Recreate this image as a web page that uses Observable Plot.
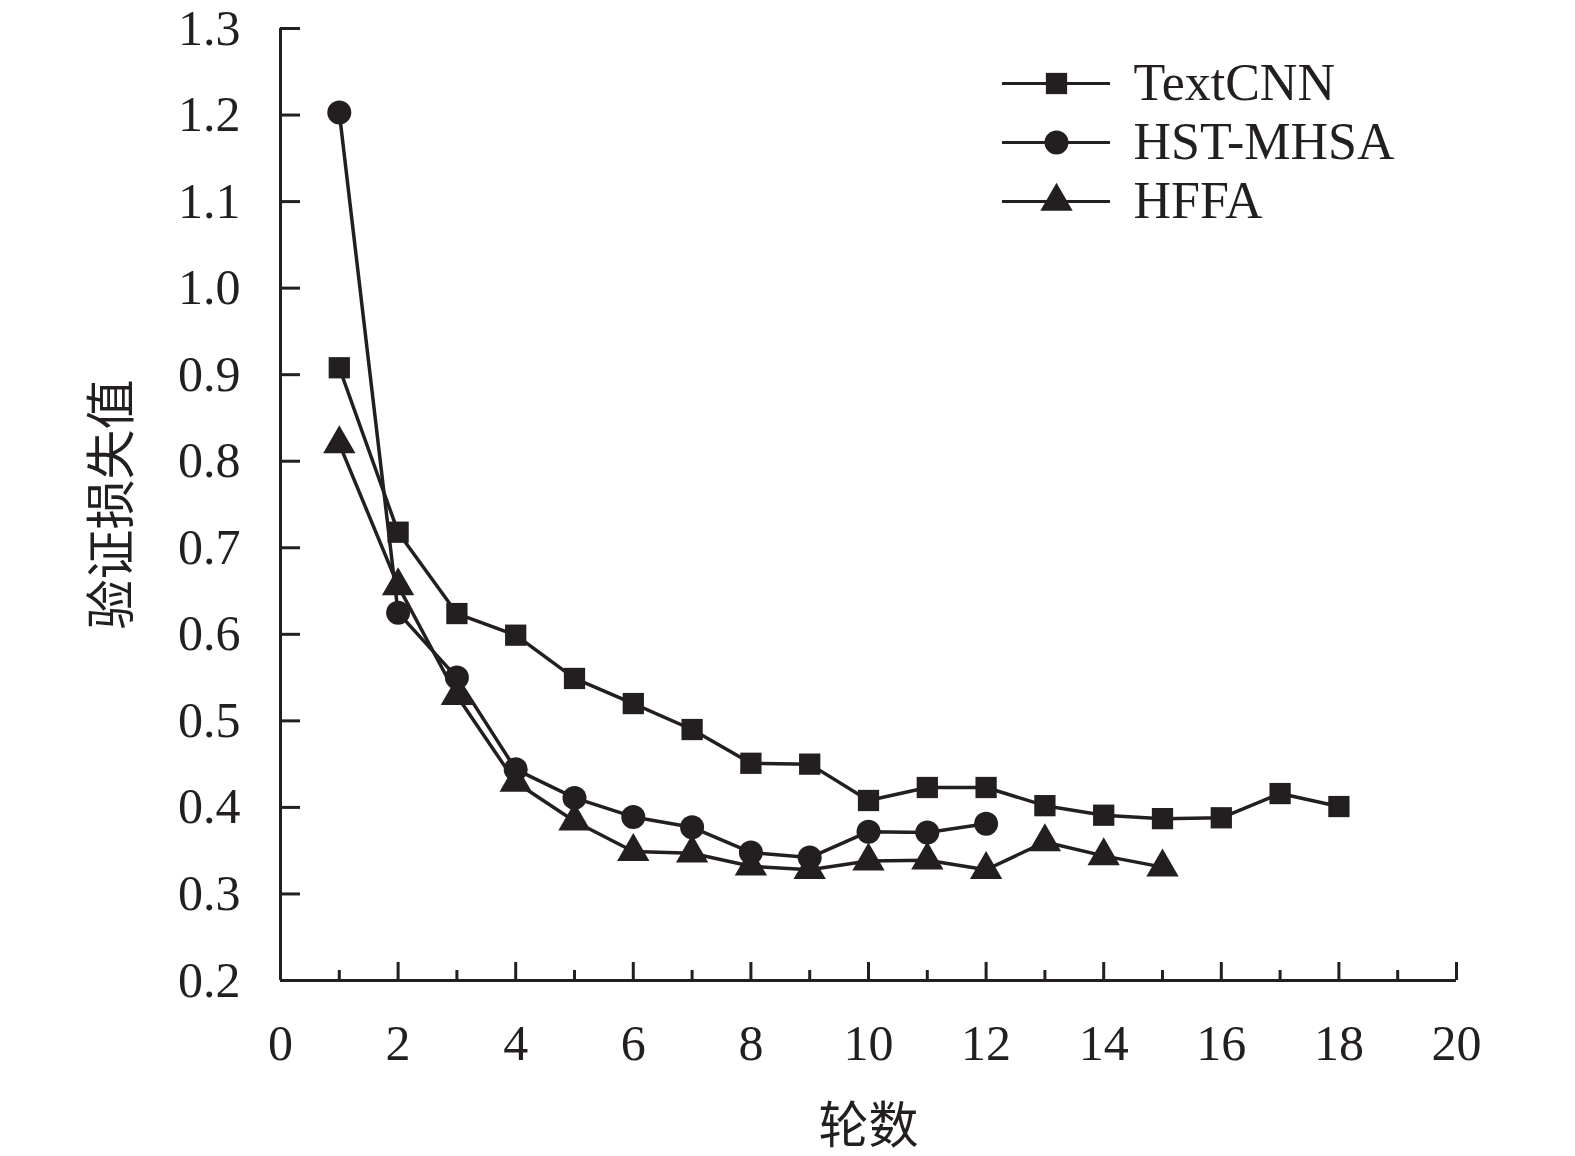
<!DOCTYPE html>
<html><head><meta charset="utf-8">
<script src="https://cdn.jsdelivr.net/npm/d3@7"></script>
<script src="https://cdn.jsdelivr.net/npm/@observablehq/plot@0.6"></script>
<style>
html,body{margin:0;padding:0;background:#fff;overflow:hidden}
#wrap{position:relative;width:1575px;height:1156px;background:#fff}
#wrap svg{display:block;max-width:none !important}
#legend{position:absolute;left:980px;top:28px}
</style>
</head><body><div id="wrap"></div>
<script>
const seriesNames = ["TextCNN", "HST-MHSA", "HFFA"];
const seriesSymbols = ["square", "circle", "triangle"];

const textcnnEpochs = [1,2,3,4,5,6,7,8,9,10,11,12,13,14,15,16,17,18];
const textcnnLoss   = [0.908,0.718,0.624,0.599,0.549,0.520,0.490,0.451,0.450,0.408,0.423,0.423,0.402,0.391,0.387,0.388,0.416,0.401];

const hstEpochs = [1,2,3,4,5,6,7,8,9,10,11,12];
const hstLoss   = [1.203,0.625,0.550,0.444,0.411,0.389,0.377,0.348,0.342,0.372,0.371,0.381];

const hffaEpochs = [1,2,3,4,5,6,7,8,9,10,11,12,13,14,15];
const hffaLoss   = [0.820,0.656,0.529,0.429,0.384,0.349,0.347,0.332,0.328,0.338,0.339,0.328,0.360,0.344,0.331];

const xMajorTicks = [0,2,4,6,8,10,12,14,16,18,20];
const xMinorTicks = [1,3,5,7,9,11,13,15,17,19];
const yTicks = [0.2,0.3,0.4,0.5,0.6,0.7,0.8,0.9,1.0,1.1,1.2,1.3];

const xLabel = "轮数";
const yLabel = "验证损失值";

const ink = "#231f20";
const serif = "'Liberation Serif', 'Times New Roman', serif";
const cjk = "'Noto Sans CJK SC', sans-serif";

const data = [
  ...textcnnEpochs.map((e, i) => ({series: seriesNames[0], epoch: e, loss: textcnnLoss[i]})),
  ...hstEpochs.map((e, i) => ({series: seriesNames[1], epoch: e, loss: hstLoss[i]})),
  ...hffaEpochs.map((e, i) => ({series: seriesNames[2], epoch: e, loss: hffaLoss[i]}))
];

const chart = Plot.plot({
  width: 1575,
  height: 1156,
  marginLeft: 280,
  marginRight: 119,
  marginTop: 28,
  marginBottom: 176,
  style: {fontFamily: serif, color: ink, background: "#fff"},
  x: {domain: [0, 20], axis: null},
  y: {domain: [0.2, 1.3], axis: null},
  symbol: {domain: seriesNames, range: seriesSymbols},
  marks: [
    Plot.axisY(yTicks, {anchor: "left", tickSize: -20, tickPadding: 60, strokeWidth: 3, fontSize: 50, fill: ink, stroke: ink, tickFormat: d => d.toFixed(1), label: null}),
    Plot.axisX(xMajorTicks, {anchor: "bottom", tickSize: -18, tickPadding: 62, strokeWidth: 3, fontSize: 50, fill: ink, stroke: ink, tickFormat: d => String(d), label: null}),
    Plot.axisX(xMinorTicks, {anchor: "bottom", tickSize: -10, strokeWidth: 3, stroke: ink, tickFormat: () => "", label: null}),
    Plot.ruleX([0], {stroke: ink, strokeWidth: 3}),
    Plot.ruleY([0.2], {stroke: ink, strokeWidth: 3}),
    Plot.line(data, {x: "epoch", y: "loss", z: "series", stroke: ink, strokeWidth: 3.5}),
    Plot.dot(data, {x: "epoch", y: "loss", symbol: "series", fill: ink, stroke: "none", r: 12}),
    Plot.text([yLabel], {text: d => d, frameAnchor: "left", dx: -168, rotate: -90, textAnchor: "middle", lineAnchor: "middle", fontFamily: cjk, fontSize: 50, fill: ink}),
    Plot.text([xLabel], {text: d => d, frameAnchor: "bottom", dy: 146, textAnchor: "middle", lineAnchor: "middle", fontFamily: cjk, fontSize: 50, fill: ink})
  ]
});

const legend = Plot.plot({
  width: 460,
  height: 210,
  margin: 0,
  style: {fontFamily: serif, color: ink, background: "transparent"},
  x: {domain: [0, 1], range: [22, 130], axis: null},
  y: {type: "point", domain: seriesNames, range: [55, 173], padding: 0, axis: null},
  symbol: {domain: seriesNames, range: seriesSymbols},
  marks: [
    Plot.ruleY(seriesNames, {y: d => d, x1: 0, x2: 1, stroke: ink, strokeWidth: 3}),
    Plot.dot(seriesNames, {x: 0.5, y: d => d, symbol: d => d, fill: ink, stroke: "none", r: 12}),
    Plot.text(seriesNames, {x: 1, y: d => d, text: d => d, dx: 23, textAnchor: "start", fontSize: 52, fill: ink})
  ]
});
legend.id = "legend";

const wrap = document.getElementById("wrap");
wrap.appendChild(chart);
wrap.appendChild(legend);
</script>
</body></html>
